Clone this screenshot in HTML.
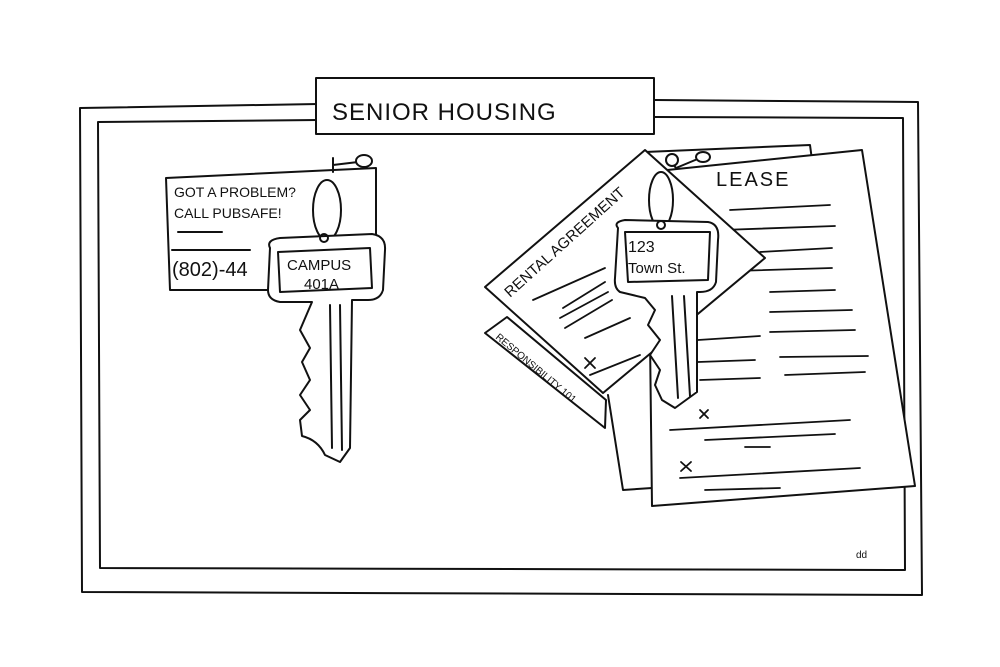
<!DOCTYPE html>
<html><head><meta charset="utf-8"><style>
html,body{margin:0;padding:0;background:#fff;}
svg{display:block}
text{font-family:"Liberation Sans",sans-serif;fill:#111}
</style></head><body>
<svg width="1000" height="667" viewBox="0 0 1000 667" xmlns="http://www.w3.org/2000/svg">
<g fill="none" stroke="#111" stroke-width="2" stroke-linejoin="round" stroke-linecap="round">
<!-- board -->
<polyline points="318,104 80,108 82,592 922,595 918,102 655,100"/>
<polyline points="318,120 98,122 100,568 905,570 903,118 655,117"/>
<!-- title -->
<rect x="316" y="78" width="338" height="56" fill="#fff"/>
<!-- left note -->
<path d="M166 178 L376 168 L376 290 L170 290 Z" fill="#fff"/>
<path d="M178 232 L222 232 M172 250 L250 250"/>
<!-- pin left -->
<path d="M333 158 L333 172 M333 165 L358 162" />
<ellipse cx="364" cy="161" rx="8" ry="6" fill="#fff"/>
<!-- ring left -->
<ellipse cx="327" cy="210" rx="14" ry="30"/>
<!-- key left -->
<path d="M270 248 Q266 240 280 238 L372 234 Q386 236 385 250 L383 290 Q380 300 368 300 L352 300 L350 448 L340 462 L325 455 Q318 440 302 436 L300 420 L310 410 L300 395 L310 380 L302 362 L310 348 L300 330 L312 302 L280 302 Q268 300 268 290 Z" fill="#fff"/>
<path d="M278 252 L370 248 L372 288 L280 292 Z"/>
<path d="M330 305 L332 448 M340 305 L342 450"/>
<circle cx="324" cy="238" r="4"/>
<!-- back sheets -->
<path d="M645 152 L810 145 L812 160" />
<path d="M608 395 L623 490 L652 488"/>
<!-- lease sheet -->
<path d="M648 172 L862 150 L915 486 L652 506 Z" fill="#fff"/>
<g stroke-width="1.8">
<path d="M730 210 L830 205 M722 230 L835 226 M760 252 L832 248 M700 272 L832 268 M770 292 L835 290 M770 312 L852 310 M770 332 L855 330 M698 340 L760 336 M698 362 L755 360 M780 357 L868 356 M700 380 L760 378 M785 375 L865 372 M670 430 L850 420 M705 440 L835 434 M745 447 L770 447 M680 478 L860 468 M705 490 L780 488"/>
<path d="M700 410 L708 418 M708 410 L700 418 M681 462 L691 471 M691 462 L681 471"/>
</g>
<!-- responsibility sheet -->
<path d="M485 333 L507 317 L606 400 L605 428 Z" fill="#fff"/>
<!-- rental agreement -->
<path d="M485 287 L645 150 L765 258 L603 393 Z" fill="#fff"/>
<g stroke-width="1.8">
<path d="M533 300 L605 268 M563 308 L605 282 M560 318 L608 292 M565 328 L612 300 M585 338 L630 318 M590 375 L640 355"/>
<path d="M585 358 L595 368 M595 358 L585 368"/>
</g>
<!-- pin right -->
<path d="M668 158 L676 168 L700 158"/>
<circle cx="672" cy="160" r="6" fill="#fff"/>
<ellipse cx="703" cy="157" rx="7" ry="5" fill="#fff"/>
<!-- ring right -->
<ellipse cx="661" cy="200" rx="12" ry="28"/>
<!-- key right -->
<path d="M618 228 Q613 222 625 220 L708 222 Q720 224 718 240 L716 282 Q713 292 700 292 L697 292 L697 392 L675 408 L662 400 L655 385 L660 370 L650 355 L660 340 L648 325 L655 310 L645 298 L620 292 Q614 288 615 278 Z" fill="#fff"/>
<path d="M625 232 L710 232 L708 280 L628 282 Z"/>
<path d="M672 296 L678 398 M684 296 L690 396"/>
<circle cx="661" cy="225" r="4"/>
</g>
<!-- text -->
<text x="332" y="120" font-size="24" letter-spacing="1">SENIOR HOUSING</text>
<text x="174" y="197" font-size="14">GOT A PROBLEM?</text>
<text x="174" y="218" font-size="14">CALL PUBSAFE!</text>
<text x="172" y="276" font-size="20">(802)-44</text>
<text x="287" y="270" font-size="15">CAMPUS</text>
<text x="304" y="289" font-size="15">401A</text>
<text x="716" y="186" font-size="20" letter-spacing="2">LEASE</text>
<text x="628" y="252" font-size="16">123</text>
<text x="628" y="273" font-size="15">Town St.</text>
<text font-size="15" transform="translate(510,298) rotate(-42)">RENTAL AGREEMENT</text>
<text font-size="10" transform="translate(495,338) rotate(40)">RESPONSIBILITY 101</text>
<text x="856" y="558" font-size="10">dd</text>
</svg>
</body></html>
